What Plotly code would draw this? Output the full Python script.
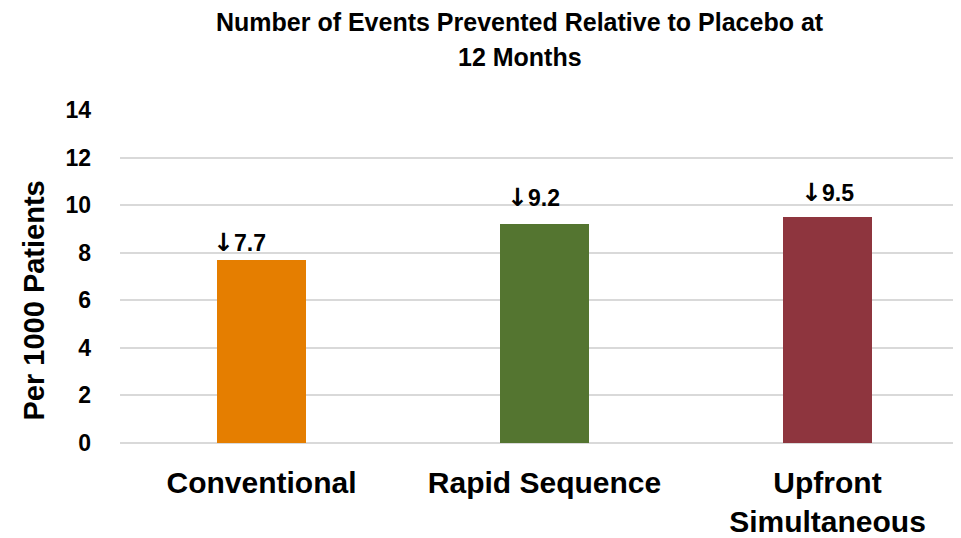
import plotly.graph_objects as go

categories = ["Conventional", "Rapid Sequence", "Upfront<br>Simultaneous"]
values = [7.7, 9.2, 9.5]
bar_colors = ["#E57E00", "#547530", "#8E353E"]
arrow = "\u2193"
y_ticks = [0, 2, 4, 6, 8, 10, 12, 14]
title_lines = ["Number of Events Prevented Relative to Placebo at", "12 Months"]
y_title = "Per 1000 Patients"

# label placement style (pixel nudges, as hand-placed in the original)
label_dx = [-22, -11, 0]
label_dy = [1, 10, 8]

FONT = "Liberation Sans, Arial, sans-serif"
OFF = 8  # page body margin

W, H = 961 - OFF, 538 - OFF
L, R, T, B = 120 - OFF, 0, 110 - OFF, 538 - 443
PW = W - L - R

fig = go.Figure()
fig.add_trace(go.Bar(
    x=categories, y=values, marker=dict(color=bar_colors, line=dict(width=0)),
    width=0.315, hoverinfo="skip",
))

anns = []
for c, v, dx, dy in zip(categories, values, label_dx, label_dy):
    txt = f"<span style='font-family:DejaVu Sans;font-size:25px'>{arrow}</span>{v}"
    anns.append(dict(x=c, y=v, text=txt, showarrow=False,
                     xanchor="center", yanchor="bottom", xshift=dx, yshift=dy,
                     font=dict(family=FONT, size=23, color="#000000", weight="bold")))

cx = (520 - OFF - L) / PW
anns.append(dict(xref="paper", yref="paper", x=cx, y=1, xanchor="center",
                 yanchor="bottom", yshift=72, showarrow=False, text=title_lines[0],
                 font=dict(family=FONT, size=25, color="#000000", weight="bold")))
anns.append(dict(xref="paper", yref="paper", x=cx, y=1, xanchor="center",
                 yanchor="bottom", yshift=37, showarrow=False, text=title_lines[1],
                 font=dict(family=FONT, size=25, color="#000000", weight="bold")))
anns.append(dict(xref="paper", yref="paper", x=(33 - OFF - L) / PW, y=0.5, xanchor="center",
                 yanchor="middle", yshift=-24, textangle=-90, showarrow=False,
                 text=y_title,
                 font=dict(family=FONT, size=29, color="#000000", weight="bold")))

fig.update_layout(
    width=W, height=H,
    paper_bgcolor="white", plot_bgcolor="white",
    margin=dict(l=L, r=R, t=T, b=B, pad=0),
    showlegend=False,
    font=dict(family=FONT, color="#000000"),
    annotations=anns,
    xaxis=dict(range=[-0.5, -0.5 + PW / 283.0], showgrid=False, showline=False, ticks="",
               tickfont=dict(family=FONT, size=30, color="#000000", weight="bold"),
               ticklabelstandoff=19),
    yaxis=dict(range=[0, 14], tickvals=y_ticks, showgrid=True, gridcolor="#D9D9D9",
               gridwidth=1.5, zeroline=True, zerolinecolor="#D9D9D9", zerolinewidth=1.5,
               showline=False, ticks="",
               tickfont=dict(family=FONT, size=23, color="#000000", weight="bold"),
               ticklabelstandoff=28),
    bargap=0,
)

fig.write_html("out.html")
